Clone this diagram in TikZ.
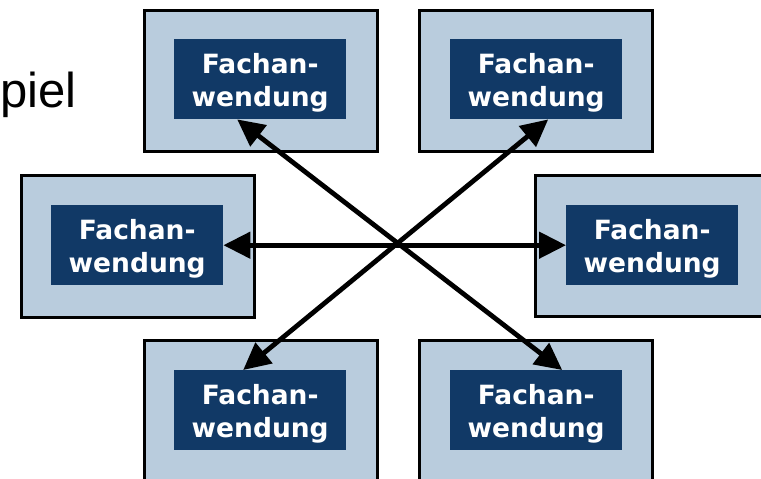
\documentclass[tikz,border=0pt]{standalone}
\usepackage{fontspec}
\setmainfont{Liberation Sans}
\newfontfamily\boxfont{DejaVu Sans}
\usetikzlibrary{arrows.meta}
\definecolor{outerfill}{RGB}{185,204,221}
\definecolor{innerfill}{RGB}{17,57,102}
\begin{document}
\begin{tikzpicture}[x=1pt,y=-1pt,
  outerbox/.style={draw=black, line width=2.5pt, fill=outerfill, anchor=north west,
    minimum width=233pt, minimum height=141pt, inner sep=0pt},
  innerbox/.style={fill=innerfill, anchor=north west,
    minimum width=172pt, minimum height=80pt, inner sep=0pt},
  boxtext/.style={text=white, align=center, inner sep=0pt, yshift=-4pt,
    font=\boxfont\bfseries\fontsize{26.5}{33}\selectfont},
  arr/.style={line width=4.8pt, {Triangle[length=27pt,width=26pt]}-{Triangle[length=27pt,width=26pt]}}
]
\useasboundingbox (0,0) rectangle (761,479);
\clip (0,0) rectangle (761,479);

\node[anchor=base west, inner sep=0pt, font=\fontsize{49}{55}\selectfont] (piel) at (0,107) {piel};

% outer boxes
\node[outerbox] (tlo) at (143,9) {};
\node[outerbox] (tro) at (418,9) {};
\node[outerbox, minimum height=142pt] (mlo) at (20,174) {};
\node[outerbox, minimum height=141pt, minimum width=240pt] (mro) at (534,174) {};
\node[outerbox, minimum height=160pt] (blo) at (143,339) {};
\node[outerbox, minimum height=160pt] (bro) at (418,339) {};

% inner boxes
\node[innerbox] (tli) at (174,39) {};
\node[innerbox] (tri) at (450,39) {};
\node[innerbox] (mli) at (51,205) {};
\node[innerbox] (mri) at (566,205) {};
\node[innerbox] (bli) at (174,370) {};
\node[innerbox] (bri) at (450,370) {};

\foreach \n in {tli,tri,mli,mri,bli,bri}{
  \node[boxtext] (\n-t) at (\n.center) {Fachan-\\wendung};
}

% arrows
\draw[arr] (mli.east) -- (mri.west);
\draw[arr] ([xshift=-23pt]tli.south) -- ([xshift=26pt]bri.north);
\draw[arr] ([xshift=12pt]tri.south) -- ([xshift=-17pt]bli.north);
\end{tikzpicture}
\end{document}
